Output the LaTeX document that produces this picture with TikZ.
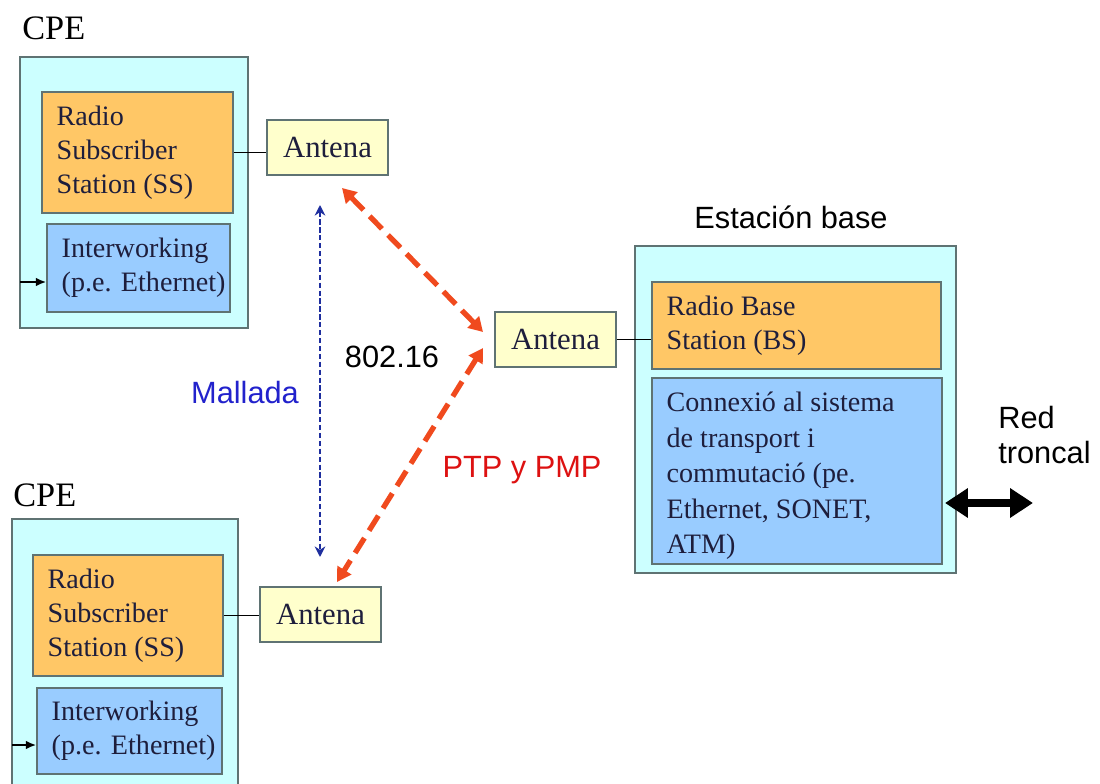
\documentclass[tikz,border=0pt]{standalone}
\usepackage{fontspec}
\setmainfont{Liberation Serif}
\setsansfont{Liberation Sans}
\usetikzlibrary{arrows.meta,calc}

\definecolor{cpefill}{HTML}{CCFFFF}
\definecolor{edgegray}{HTML}{5F7373}
\definecolor{ssorange}{HTML}{FFC766}
\definecolor{iwblue}{HTML}{99CCFF}
\definecolor{antyellow}{HTML}{FFFFCC}
\definecolor{radiored}{HTML}{F04A1E}
\definecolor{meshblue}{HTML}{1E2E9E}
\definecolor{txtdark}{HTML}{1E1E3C}
\definecolor{malladablue}{HTML}{2222CC}
\definecolor{ptpred}{HTML}{DD1111}

\begin{document}
\begin{tikzpicture}[x=0.02cm,y=-0.02cm,
  outer/.style={draw=edgegray,fill=cpefill,line width=0.8pt},
  ssbox/.style={draw=edgegray,fill=ssorange,line width=0.8pt,inner sep=0pt},
  iwbox/.style={ssbox,fill=iwblue},
  boxtxt/.style={anchor=west,align=left,inner sep=0pt,xshift=0.3cm,text=txtdark,
    font=\fontsize{16}{19.5}\selectfont},
  ant/.style={draw=edgegray,fill=antyellow,line width=0.8pt,minimum width=2.42cm,
    minimum height=1.1cm,text=txtdark,font=\fontsize{17.5}{20}\selectfont},
  lbl/.style={font=\sffamily\fontsize{17.5}{20}\selectfont,inner sep=0pt},
  cpel/.style={anchor=west,inner sep=0pt,font=\fontsize{19.5}{22}\selectfont},
  radio/.style={draw=radiored,line width=3pt,dash pattern=on 10pt off 5pt,
    {Triangle[length=8pt,width=9pt]}-{Triangle[length=8pt,width=9pt]}},
  mesh/.style={draw=meshblue,line width=1.2pt,dash pattern=on 3pt off 1.5pt,
    {Stealth[length=6pt,width=6pt]}-{Stealth[length=6pt,width=6pt]}}]

\useasboundingbox (0,0) rectangle (1100,784);
\clip (0,0) rectangle (1100,784);

% upper CPE
\node[cpel] (cpeAl) at (22,28) {CPE};
\node[outer,minimum width=4.56cm,minimum height=5.42cm] (cpeA) at (134,192.5) {};
\node[ssbox,minimum width=3.82cm,minimum height=2.42cm] (ssA) at (137.5,152.5) {};
\node[boxtxt] (ssAt) at (ssA.west) {Radio\\Subscriber\\Station (SS)};
\node[iwbox,minimum width=3.66cm,minimum height=1.76cm] (iwA) at (138.5,268) {};
\node[boxtxt] (iwAt) at (iwA.west) {Interworking\\(p.e. Ethernet)};
\node[ant] (antA) at (327.5,147.5) {Antena};
\coordinate (inA) at (20,282);

% lower CPE
\node[cpel] (cpeBl) at (13,495) {CPE};
\node[outer,minimum width=4.52cm,minimum height=5.42cm] (cpeB) at (125,654.5) {};
\node[ssbox,minimum width=3.8cm,minimum height=2.42cm] (ssB) at (128,615.5) {};
\node[boxtxt] (ssBt) at (ssB.west) {Radio\\Subscriber\\Station (SS)};
\node[iwbox,minimum width=3.7cm,minimum height=1.72cm] (iwB) at (129.5,731) {};
\node[boxtxt] (iwBt) at (iwB.west) {Interworking\\(p.e. Ethernet)};
\node[ant] (antB) at (320.5,614.5) {Antena};
\coordinate (inB) at (12,745);

% base station
\node[lbl] (basel) at (791,217) {Estación base};
\node[outer,minimum width=6.42cm,minimum height=6.54cm] (base) at (795.5,409.5) {};
\node[ssbox,minimum width=5.78cm,minimum height=1.74cm] (bs) at (796.5,325.5) {};
\node[boxtxt] (bst) at (bs.west) {Radio Base\\Station (BS)};
\node[iwbox,minimum width=5.8cm,minimum height=3.72cm] (cx) at (797,471) {};
\node[boxtxt,font=\fontsize{16}{20.2}\selectfont] (cxt) at ([yshift=-0.1cm]cx.west) {Connexió al sistema\\de transport i\\commutació (pe.\\Ethernet, SONET,\\ATM)};
\node[ant] (antC) at (555.5,339.5) {Antena};

% labels
\node[lbl] (std) at (392,357) {802.16};
\node[lbl,text=malladablue] (mesh) at (245,393) {Mallada};
\node[lbl,text=ptpred] (ptp) at (522,470) {PTP y PMP};
\node[lbl,anchor=west,align=left] (trl) at (998,435) {Red\\troncal};

% links
\draw[line width=0.8pt] (ssA.east) -- (ssA.east -| antA.west);
\draw[line width=0.8pt] (ssB.east) -- (ssB.east -| antB.west);
\draw[line width=0.8pt] (antC.east) -- (antC.east -| bs.west);
\draw[-{Latex[length=6pt,width=5pt]},line width=1.5pt] (inA) -- (inA -| iwA.west);
\draw[-{Latex[length=6pt,width=5pt]},line width=1.5pt] (inB) -- (inB -| iwB.west);

\coordinate (rA) at (342,188);
\coordinate (rC1) at (483,332);
\coordinate (rC2) at (483,348);
\coordinate (rB) at (337,582);
\draw[radio] (rA) -- (rC1);
\draw[radio] (rC2) -- (rB);
\coordinate (mA) at (320,205);
\coordinate (mB) at (320,557);
\draw[mesh] (mA) -- (mB);

\coordinate (trA) at (945,503);
\coordinate (trB) at (1033,503);
\draw[line width=5pt,{Triangle[length=13pt,width=16pt]}-{Triangle[length=13pt,width=16pt]}] (trA) -- (trB);
\end{tikzpicture}
\end{document}
